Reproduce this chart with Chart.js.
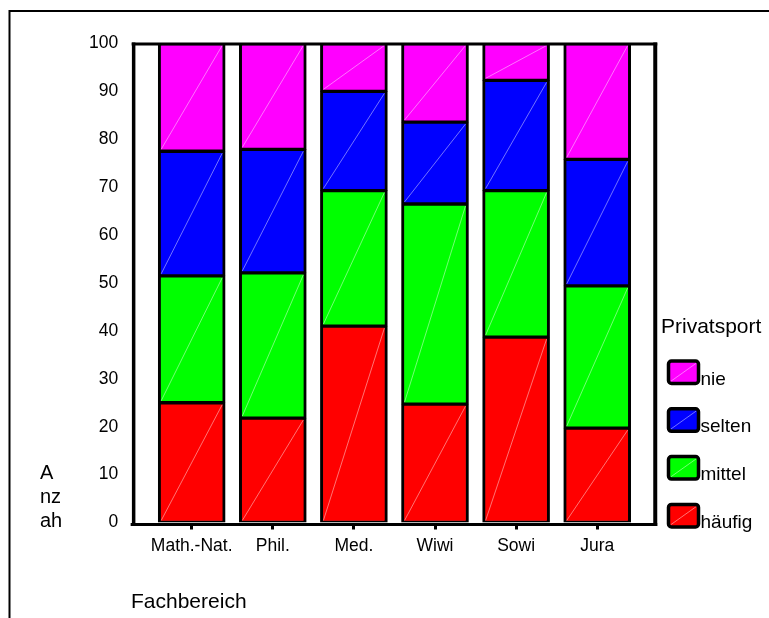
<!DOCTYPE html>
<html>
<head>
<meta charset="utf-8">
<script src="https://cdn.jsdelivr.net/npm/chart.js@4/dist/chart.umd.min.js"></script>
<style>
  html, body { margin: 0; padding: 0; background: #fff; }
  canvas { display: block; }
</style>
</head>
<body>
<canvas id="chart" width="769" height="618"></canvas>
<script>
// Privatsport nach Fachbereich (Prozent)
const categories = ['Math.-Nat.', 'Phil.', 'Med.', 'Wiwi', 'Sowi', 'Jura'];
const haeufig = [25.0, 21.8, 41.0, 24.7, 38.7, 19.7];
const mittel  = [26.5, 30.3, 28.3, 41.8, 30.6, 29.7];
const selten  = [26.0, 25.8, 20.7, 17.1, 23.0, 26.4];
const nie     = [22.5, 22.1, 10.0, 16.4, 7.7, 24.2];
const seriesNames = ['häufig', 'mittel', 'selten', 'nie'];
const seriesColors = ['#ff0000', '#00ff00', '#0000ff', '#ff00ff'];
const yTicks = [0, 10, 20, 30, 40, 50, 60, 70, 80, 90, 100];

const FONT = '"Liberation Sans", Arial, sans-serif';
const FRAME_EXT = 17.5;

function makeDataset(name, values, color) {
    return {
        label: name,
        data: values,
        backgroundColor: color,
        borderColor: '#000',
        borderWidth: { left: 3, right: 3, top: 2, bottom: 2 },
        borderSkipped: false,
        barThickness: 67
    };
}

// Rahmen, Diagonalen, Achsentitel und Legende
const decorPlugin = {
    id: 'decor',
    afterDatasetsDraw: (chart) => {
        const ctx = chart.ctx;
        ctx.save();
        ctx.strokeStyle = 'rgba(255, 255, 255, 0.45)';
        ctx.lineWidth = 1;
        chart.data.datasets.forEach((ds, i) => {
            chart.getDatasetMeta(i).data.forEach((bar) => {
                const p = bar.getProps(['x', 'y', 'base', 'width'], true);
                const x0 = p.x - p.width / 2 + 3;
                const x1 = p.x + p.width / 2 - 3;
                ctx.beginPath();
                ctx.moveTo(x0, p.base - 2);
                ctx.lineTo(x1, p.y + 2);
                ctx.stroke();
            });
        });
        ctx.restore();
    },
    afterDraw: (chart) => {
        const ctx = chart.ctx;
        const area = chart.chartArea;
        const left = area.left - FRAME_EXT;
        const right = area.right + FRAME_EXT;

        ctx.save();
        ctx.strokeStyle = '#000';
        ctx.lineCap = 'butt';

        // Rahmen um den Plotbereich
        ctx.lineWidth = 3;
        ctx.beginPath();
        ctx.moveTo(left - 2, area.top + 0.5);
        ctx.lineTo(right + 2, area.top + 0.5);
        ctx.stroke();
        ctx.beginPath();
        ctx.moveTo(left - 3, area.bottom + 2);
        ctx.lineTo(right + 2, area.bottom + 2);
        ctx.stroke();
        ctx.lineWidth = 3.5;
        ctx.beginPath();
        ctx.moveTo(left, area.top - 1);
        ctx.lineTo(left, area.bottom + 3.5);
        ctx.stroke();
        ctx.lineWidth = 4;
        ctx.beginPath();
        ctx.moveTo(right, area.top - 1);
        ctx.lineTo(right, area.bottom + 3.5);
        ctx.stroke();

        // äußerer Rahmen
        ctx.lineWidth = 2;
        ctx.beginPath();
        ctx.moveTo(9.5, 618);
        ctx.lineTo(9.5, 11);
        ctx.lineTo(769, 11);
        ctx.stroke();

        // Achsentitel
        ctx.fillStyle = '#000';
        ctx.textAlign = 'left';
        ctx.textBaseline = 'alphabetic';
        ctx.font = '21px ' + FONT;
        ctx.fillText('Fachbereich', 131, 608);

        ctx.save();
        ctx.beginPath();
        ctx.rect(0, 440, 120, 87);
        ctx.clip();
        ctx.font = '20px ' + FONT;
        ctx.fillText('A', 40, 479);
        ctx.fillText('nz', 40, 503);
        ctx.fillText('ah', 40, 527);
        ctx.restore();

        // Legende
        ctx.font = '21px ' + FONT;
        ctx.fillText('Privatsport', 661, 333);
        ctx.font = '19px ' + FONT;
        const n = chart.data.datasets.length;
        for (let k = 0; k < n; k++) {
            const ds = chart.data.datasets[n - 1 - k];
            const bx = 668.5;
            const by = 361 + k * 47.8;
            const bw = 30;
            const bh = 22.5;
            ctx.fillStyle = ds.backgroundColor;
            ctx.beginPath();
            ctx.roundRect(bx, by, bw, bh, 3);
            ctx.fill();
            ctx.strokeStyle = 'rgba(255, 255, 255, 0.45)';
            ctx.lineWidth = 1;
            ctx.beginPath();
            ctx.moveTo(bx + 2, by + bh - 2);
            ctx.lineTo(bx + bw - 2, by + 2);
            ctx.stroke();
            ctx.strokeStyle = '#000';
            ctx.lineWidth = 3.5;
            ctx.beginPath();
            ctx.roundRect(bx, by, bw, bh, 3);
            ctx.stroke();
            ctx.fillStyle = '#000';
            ctx.fillText(ds.label, 700.5, by + bh + 1);
        }
        ctx.restore();
    }
};

new Chart(document.getElementById('chart'), {
    type: 'bar',
    data: {
        labels: categories,
        datasets: [
            makeDataset(seriesNames[0], haeufig, seriesColors[0]),
            makeDataset(seriesNames[1], mittel, seriesColors[1]),
            makeDataset(seriesNames[2], selten, seriesColors[2]),
            makeDataset(seriesNames[3], nie, seriesColors[3])
        ]
    },
    options: {
        responsive: false,
        animation: false,
        devicePixelRatio: 1,
        layout: {
            padding: { top: 43.5, right: 131.25, left: 0, bottom: 0 }
        },
        plugins: {
            legend: { display: false },
            tooltip: { enabled: false }
        },
        scales: {
            x: {
                stacked: true,
                offset: true,
                afterFit: (scale) => { scale.height = 95.5; },
                grid: {
                    offset: false,
                    drawOnChartArea: false,
                    drawTicks: true,
                    tickLength: 7,
                    tickWidth: 3,
                    tickColor: '#000'
                },
                border: { display: false },
                ticks: {
                    color: '#000',
                    padding: 6,
                    maxRotation: 0,
                    autoSkip: false,
                    font: { family: FONT, size: 17.5 }
                }
            },
            y: {
                stacked: true,
                min: 0,
                max: 100,
                afterFit: (scale) => { scale.width = 151.15; },
                afterBuildTicks: (scale) => {
                    scale.ticks = yTicks.map((v) => ({ value: v }));
                },
                grid: { display: false, drawTicks: false },
                border: { display: false },
                ticks: {
                    color: '#000',
                    padding: 33,
                    font: { family: FONT, size: 17.5 }
                }
            }
        }
    },
    plugins: [decorPlugin]
});
</script>
</body>
</html>
